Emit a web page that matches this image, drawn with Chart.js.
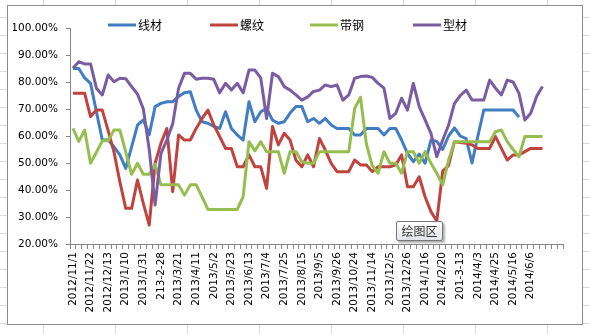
<!DOCTYPE html>
<html lang="zh">
<head>
<meta charset="UTF-8">
<title>线材 螺纹 带钢 型材</title>
<script src="https://cdn.jsdelivr.net/npm/chart.js@4"></script>
<style>
  html, body { margin: 0; padding: 0; }
  body {
    width: 590px;
    height: 334px;
    overflow: hidden;
    position: relative;
    background-color: #fff;
    background-image: linear-gradient(to right, #d9dadc 1px, transparent 1px),
                      linear-gradient(to bottom, #d9dadc 1px, transparent 1px);
    background-size: 72px 18px;
    background-position: 43px 17px;
  }
  #box {
    position: absolute;
    left: 7px;
    top: 5px;
    width: 576px;
    height: 320px;
    box-sizing: border-box;
    border: 1px solid #8c8c8c;
    background: #fff;
  }
  #wrap { position: absolute; left: 0; top: 0; width: 574px; height: 318px; }
  #tip {
    position: absolute;
    left: 396px;
    top: 221px;
    width: 47px;
    height: 20px;
    box-sizing: border-box;
    border: 1px solid #767676;
    border-radius: 2px;
    background: linear-gradient(#ffffff, #e4e5ea);
    box-shadow: 2px 2px 2px rgba(0, 0, 0, 0.3);
    font: 12px "Noto Sans CJK SC", sans-serif;
    color: #333;
    text-align: center;
    line-height: 18px;
  }
</style>
</head>
<body>
<div id="box"><div id="wrap"><canvas id="lineChart"></canvas></div></div>
<div id="tip">绘图区</div>

<script>
// weekly dates, only every third one is printed under the axis
var dates = ['2012/11/1', '2012/11/8', '2012/11/15', '2012/11/22', '2012/11/29', '2012/12/6',
  '2012/12/13', '2012/12/20', '2012/12/27', '2013/1/10', '2013/1/17', '2013/1/24',
  '2013/1/31', '2013/2/7', '2013/2/21', '213-2-28', '2013/3/7', '2013/3/14',
  '2013/3/21', '2013/3/28', '2013/4/4', '2013/4/11', '2013/4/18', '2013/4/25',
  '2013/5/2', '2013/5/9', '2013/5/16', '2013/5/23', '2013/5/30', '2013/6/6',
  '2013/6/13', '2013/6/20', '2013/6/27', '2013/7/4', '2013/7/11', '2013/7/18',
  '2013/7/25', '2013/8/1', '2013/8/8', '2013/8/15', '2013/8/22', '2013/8/29',
  '2013/9/5', '2013/9/12', '2013/9/19', '2013/9/26', '2013/10/10', '2013/10/17',
  '2013/10/24', '2013/10/31', '2013/11/7', '2013/11/14', '2013/11/21', '2013/11/28',
  '2013/12/5', '2013/12/12', '2013/12/19', '2013/12/26', '2014/1/2', '2014/1/9',
  '2014/1/16', '2014/1/23', '2014/2/13', '2014/2/20', '2014/2/27', '2014/3/6',
  '201-3-13', '2014/3/20', '2014/3/27', '2014/4/3', '2014/4/10', '2014/4/17',
  '2014/4/25', '2014/5/2', '2014/5/9', '2014/5/16', '2014/5/23', '2014/5/30',
  '2014/6/6', '2014/6/13', '2014/6/20', '', '', ''];

var seriesNames = ['线材', '螺纹', '带钢', '型材'];

var xianCai = [85, 85, 81.5, 79.5, 69, 58.5, 58.5, 56, 53, 48,
  56, 64, 66, 60.5, 70.9, 72.1, 72.7, 72.7, 74.6, 76,
  76.4, 69.6, 65.3, 64.7, 63.5, 62.8, 69, 62.8, 60.4, 58.5,
  72.7, 65.3, 69, 70.2, 65.9, 64.7, 65.3, 68.5, 70.9, 70.9,
  65.3, 66.5, 64.7, 66.5, 64.1, 62.8, 62.8, 62.8, 60.4, 60.4,
  62.8, 62.8, 62.8, 60.4, 62.8, 62.8, 58.5, 53.6, 50.5, 53.3,
  49.9, 58.5, 58, 55, 60, 63, 60, 59, 50, 60,
  69.6, 69.6, 69.6, 69.6, 69.6, 69.6, 67];

var luoWen = [75.8, 75.8, 75.8, 67.2, 69.6, 69.6, 62, 54, 43, 33.2,
  33.2, 43.7, 35, 27, 49.9, 57.3, 62.8, 39.4, 60.4, 58.5,
  58.5, 62.8, 66.5, 69.6, 64.1, 59.8, 55.4, 55.4, 48.6, 48.6,
  53, 48.6, 48.6, 40.6, 63.5, 56.7, 61, 58.5, 51, 48.6,
  53, 48.6, 59.1, 54.8, 49.9, 46.8, 46.8, 46.8, 51.1, 49.3,
  49.3, 46.8, 48.6, 48.6, 48.6, 49.3, 53, 41.2, 41.2, 44.9,
  37.5, 32, 28.5, 47, 49, 57.9, 57.6, 57.3, 56.7, 55.4,
  55.4, 55.4, 59.8, 55.4, 51.1, 53, 53, 54.2, 55.4, 55.4,
  55.4];

var daiGang = [62.8, 58, 62.2, 49.9, 54, 58.2, 58.2, 62.2, 62.2, 54,
  45.8, 49.9, 45.8, 45.8, 49.5, 41.9, 41.9, 41.9, 41.9, 38.1,
  41.9, 41.9, 37.5, 32.8, 32.8, 32.8, 32.8, 32.8, 32.8, 37.5,
  57.9, 54.5, 57.9, 54.2, 54.2, 54.2, 46.2, 54.2, 54.2, 50.5,
  49.9, 49.9, 54.2, 54.2, 54.2, 54.2, 54.2, 54.2, 70.2, 74.3,
  57, 49, 46.2, 54.2, 49.9, 49.9, 46.2, 54.2, 54.2, 49.9,
  54.2, 49.9, 46.2, 41.9, 51, 57.9, 57.9, 57.9, 57.9, 57.9,
  57.9, 57.9, 61.6, 62.2, 57.9, 55, 52.3, 59.8, 59.8, 59.8,
  59.8];

var xingCai = [85.1, 87.5, 86.7, 86.7, 77.7, 75.2, 82.6, 80.1, 81.4, 81.2,
  78.3, 75.5, 70, 55, 34.4, 53.6, 58.5, 64.5, 77.7, 83.2,
  83.2, 81, 81.4, 81.4, 81, 76, 79.5, 77, 79.5, 76,
  84.4, 84.4, 81.5, 66.5, 83.2, 82, 78.3, 77, 75.2, 73.3,
  74.5, 76.5, 77, 78.9, 78.3, 78.9, 73.3, 75.2, 81.4, 82,
  82.2, 81.7, 79.5, 77.7, 66.5, 68.4, 74, 69.6, 79.5, 70.9,
  66, 61, 52.3, 58.5, 64, 72, 75, 77, 73.3, 73.3,
  73.3, 80.7, 77.7, 75.2, 80.7, 80, 75.8, 65.9, 68.4, 74.6,
  78.3];

var colors = ['#417DC1', '#C0433F', '#96BE4F', '#7A5CA2'];

function makeSet(i, values) {
    return {
        label: seriesNames[i],
        data: values,
        borderColor: colors[i],
        backgroundColor: colors[i],
        borderWidth: 3,
        borderJoinStyle: 'round',
        pointRadius: 0,
        tension: 0,
        fill: false,
        order: 4 - i   // later series drawn on top, like Excel
    };
}

// Excel style legend sitting above the plot
var legendX = [100, 202, 302, 405];
var excelLegend = {
    id: 'excelLegend',
    afterDraw: function (chart) {
        var ctx = chart.ctx;
        ctx.save();
        ctx.font = '12px "Noto Sans CJK SC"';
        ctx.textBaseline = 'middle';
        chart.data.datasets.forEach(function (ds, i) {
            var x = legendX[i], y = 19;
            ctx.strokeStyle = ds.borderColor;
            ctx.lineWidth = 3;
            ctx.beginPath();
            ctx.moveTo(x, y);
            ctx.lineTo(x + 28, y);
            ctx.stroke();
            ctx.fillStyle = '#000';
            ctx.fillText(ds.label, x + 30, y);
        });
        ctx.restore();
    }
};

var tickFont = { family: 'DejaVu Sans', size: 10.5 };

var ctx = document.getElementById('lineChart').getContext('2d');
var lineChart = new Chart(ctx, {
    type: 'line',
    data: {
        labels: dates,
        datasets: [makeSet(0, xianCai), makeSet(1, luoWen), makeSet(2, daiGang), makeSet(3, xingCai)]
    },
    options: {
        responsive: true,
        maintainAspectRatio: false,
        animation: false,
        layout: { padding: { left: 5, right: 19, top: 22, bottom: 0 } },
        plugins: {
            legend: { display: false },
            tooltip: { enabled: false }
        },
        scales: {
            x: {
                offset: true,
                grid: { offset: true, drawOnChartArea: false, drawTicks: true, tickLength: 5, color: '#868686' },
                border: { color: '#868686' },
                ticks: {
                    autoSkip: false,
                    maxRotation: 90,
                    minRotation: 90,
                    padding: 3,
                    color: '#000',
                    font: tickFont,
                    callback: function (v, i) { return i % 3 === 0 ? dates[i] : ''; }
                },
                afterFit: function (s) { s.height = 80; }
            },
            y: {
                min: 20,
                max: 100,
                grid: { drawOnChartArea: false, tickLength: 4, color: '#868686' },
                border: { color: '#868686' },
                ticks: {
                    stepSize: 10,
                    padding: 8,
                    color: '#000',
                    font: tickFont,
                    callback: function (v) { return v.toFixed(2) + '%'; }
                },
                afterFit: function (s) { s.width = 57; }
            }
        }
    },
    plugins: [excelLegend]
});
</script>
</body>
</html>
